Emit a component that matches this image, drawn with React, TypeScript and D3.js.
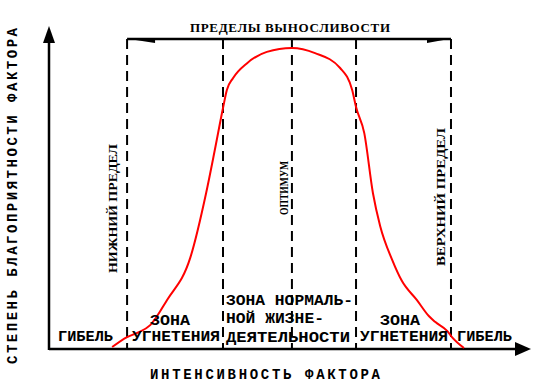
import React from "react";
import * as d3 from "d3";

// intensity of the factor (0..100) vs. degree of favourability (0..100)
const curveX = [13.1, 16.2, 18.3, 21.0, 24.5, 29.3, 32.6, 34.4, 36.1, 36.9, 38.2, 41.1, 45.2, 50.4, 55.2, 60.4, 62.9, 63.7, 65.4, 67.2, 68.7, 71.2, 73.2, 76.3, 78.8, 80.1, 82.6, 83.6, 86.1];
const curveY = [0.6, 3.7, 5.0, 7.4, 15.2, 28.2, 48.3, 61.6, 74.6, 80.2, 83.9, 88.5, 92.0, 93.2, 91.6, 87.0, 80.2, 74.9, 66.9, 48.3, 38.1, 27.6, 21.1, 15.2, 10.2, 8.4, 5.6, 3.7, 0.3];

// dashed boundaries: lower limit, end of suppression, optimum, start of suppression, upper limit
const boundaries = [16.2, 36.1, 50.4, 63.7, 83.4];
const limitsLevel = 96;

const title = "ПРЕДЕЛЫ ВЫНОСЛИВОСТИ";
const xLabel = "ИНТЕНСИВНОСТЬ ФАКТОРА";
const yLabel = "СТЕПЕНЬ БЛАГОПРИЯТНОСТИ ФАКТОРА";

const W = 534;
const H = 386;

const mono = "'Liberation Mono', 'DejaVu Sans Mono', monospace";
const serif = "'Liberation Serif', 'DejaVu Serif', serif";

export default function App() {
  const x = d3.scaleLinear().domain([0, 100]).range([49, 531]);
  const y = d3.scaleLinear().domain([0, 100]).range([349, 26]);

  const pts: [number, number][] = curveX.map((v, i) => [v, curveY[i]]);
  const line = d3
    .line<[number, number]>()
    .x((d) => x(d[0]))
    .y((d) => y(d[1]))
    .curve(d3.curveMonotoneX);

  const x0 = x(0);
  const y0 = y(0);
  const xEnd = x(100);
  const yEnd = y(100);
  const barY = y(limitsLevel);
  const bL = x(boundaries[0]);
  const bR = x(boundaries[4]);

  return (
    <svg
      width={W}
      height={H}
      style={{ position: "absolute", left: 0, top: 0, background: "#fff" }}
    >
      {/* dashed verticals */}
      {boundaries.map((b, i) => (
        <line
          key={i}
          x1={x(b)}
          x2={x(b)}
          y1={barY}
          y2={y0}
          stroke="#000"
          strokeWidth={2}
          strokeDasharray="10,6"
        />
      ))}

      {/* limits bar */}
      <line x1={bL} x2={bR} y1={barY} y2={barY} stroke="#000" strokeWidth={2.5} />
      <path d={`M${bL + 2},${barY} L${bL + 28},${barY} L${bL + 28},${barY + 4} Z`} fill="#000" />
      <path d={`M${bR - 2},${barY} L${bR - 24},${barY} L${bR - 24},${barY + 4} Z`} fill="#000" />

      {/* axes */}
      <line x1={x0} x2={x0} y1={y0 + 1} y2={yEnd + 14} stroke="#000" strokeWidth={2.5} />
      <path d={`M${x0},${yEnd} L${x0 - 6},${yEnd + 17} L${x0 + 6},${yEnd + 17} Z`} fill="#000" />
      <line x1={x0} x2={xEnd - 14} y1={y0} y2={y0} stroke="#000" strokeWidth={2.5} />
      <path d={`M${xEnd},${y0} L${xEnd - 16},${y0 - 7} L${xEnd - 16},${y0 + 7} Z`} fill="#000" />

      {/* curve */}
      <path d={line(pts) ?? ""} fill="none" stroke="#ff0000" strokeWidth={2} />

      {/* title */}
      <text x={190} y={32} fontFamily={serif} fontWeight="bold" fontSize={13} textLength={200} lengthAdjust="spacing">
        {title}
      </text>

      {/* axis labels */}
      <text x={150} y={379} fontFamily={mono} fontWeight="bold" fontSize={14} textLength={230} lengthAdjust="spacing">
        {xLabel}
      </text>
      <text
        transform="translate(17,364) rotate(-90)"
        fontFamily={mono}
        fontWeight="bold"
        fontSize={14}
        textLength={336}
        lengthAdjust="spacing"
      >
        {yLabel}
      </text>

      {/* zone labels */}
      <g fontFamily={mono} fontWeight="bold" fontSize={14}>
        <text x={58} y={341} textLength={55} lengthAdjust="spacingAndGlyphs">ГИБЕЛЬ</text>
        <text x={150} y={325} textLength={40} lengthAdjust="spacingAndGlyphs">ЗОНА</text>
        <text x={132} y={341} textLength={88} lengthAdjust="spacingAndGlyphs">УГНЕТЕНИЯ</text>
        <text x={226} y={305} textLength={127} lengthAdjust="spacingAndGlyphs">ЗОНА НОРМАЛЬ-</text>
        <text x={226} y={323} textLength={98} lengthAdjust="spacingAndGlyphs">НОЙ ЖИЗНЕ-</text>
        <text x={226} y={342} textLength={124} lengthAdjust="spacingAndGlyphs">ДЕЯТЕЛЬНОСТИ</text>
        <text x={380} y={325} textLength={40} lengthAdjust="spacingAndGlyphs">ЗОНА</text>
        <text x={360} y={341} textLength={88} lengthAdjust="spacingAndGlyphs">УГНЕТЕНИЯ</text>
        <text x={457} y={341} textLength={55} lengthAdjust="spacingAndGlyphs">ГИБЕЛЬ</text>
      </g>

      {/* vertical boundary labels */}
      <g fontFamily={serif} fontWeight="bold" fontSize={13}>
        <text transform="translate(117,273) rotate(-90)" textLength={129} lengthAdjust="spacingAndGlyphs">НИЖНИЙ ПРЕДЕЛ</text>
        <text transform="translate(288,215) rotate(-90)" textLength={54} lengthAdjust="spacingAndGlyphs">ОПТИМУМ</text>
        <text transform="translate(445,266) rotate(-90)" textLength={138} lengthAdjust="spacingAndGlyphs">ВЕРХНИЙ ПРЕДЕЛ</text>
      </g>
    </svg>
  );
}
